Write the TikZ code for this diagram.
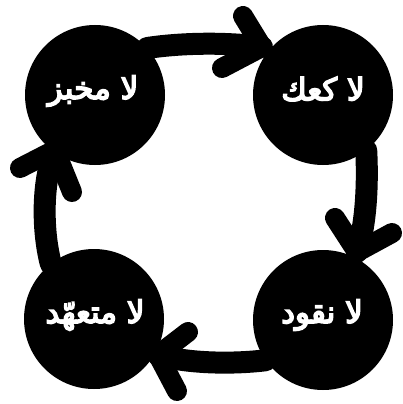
\documentclass[tikz,border=0pt]{standalone}
\usepackage{fontspec}
\TeXXeTstate=1
\newfontfamily\arabicfont[Script=Arabic,FakeBold=5]{DejaVu Sans}
\begin{document}
\begin{tikzpicture}[x=1pt,y=-1pt,
  ball/.style={circle, fill=black, minimum size=140pt, inner sep=0pt},
  label/.style={text=white, font=\arabicfont\fontsize{31}{36}\selectfont, inner sep=0pt},
  band/.style={draw=black, line width=22pt, line cap=round, line join=round},
  barb/.style={draw=black, line width=20pt, line cap=round, line join=round}]
\useasboundingbox (0,0) rectangle (403,404);
\node[ball] (tl) at (95,95) {};
\node[ball] (tr) at (323,95) {};
\node[ball] (br) at (323,320) {};
\node[ball] (bl) at (94,319) {};
\node[label] (ltl) at (93,91) {\beginR لا مخبز\endR};
\node[label] (ltr) at (323,89) {\beginR لا كعك\endR};
\node[label] (lbr) at (322,315) {\beginR لا نقود\endR};
\node[label] (lbl) at (95,315) {\beginR لا متعهّد\endR};
\coordinate (t1) at (262,47);
\coordinate (a1) at (243,16);
\coordinate (b1) at (222,68);
\coordinate (t2) at (357,252);
\coordinate (a2) at (335,218);
\coordinate (b2) at (392,233);
\coordinate (t3) at (158,355);
\coordinate (a3) at (188,332);
\coordinate (b3) at (177,391);
\coordinate (t4) at (55,150);
\coordinate (a4) at (20,168);
\coordinate (b4) at (72,192);
\draw[band] (tl.42) .. controls (180,43) and (225,42) .. (t1);
\draw[barb] (a1) -- (t1) -- (b1);
\draw[band] (tr.-52) .. controls (368,185) and (366,225) .. (t2);
\draw[barb] (a2) -- (t2) -- (b2);
\draw[band] (br.-145) .. controls (235,364) and (190,364) .. (t3);
\draw[barb] (a3) -- (t3) -- (b3);
\draw[band] (bl.128) .. controls (42,230) and (42,180) .. (t4);
\draw[barb] (a4) -- (t4) -- (b4);
\end{tikzpicture}
\end{document}
